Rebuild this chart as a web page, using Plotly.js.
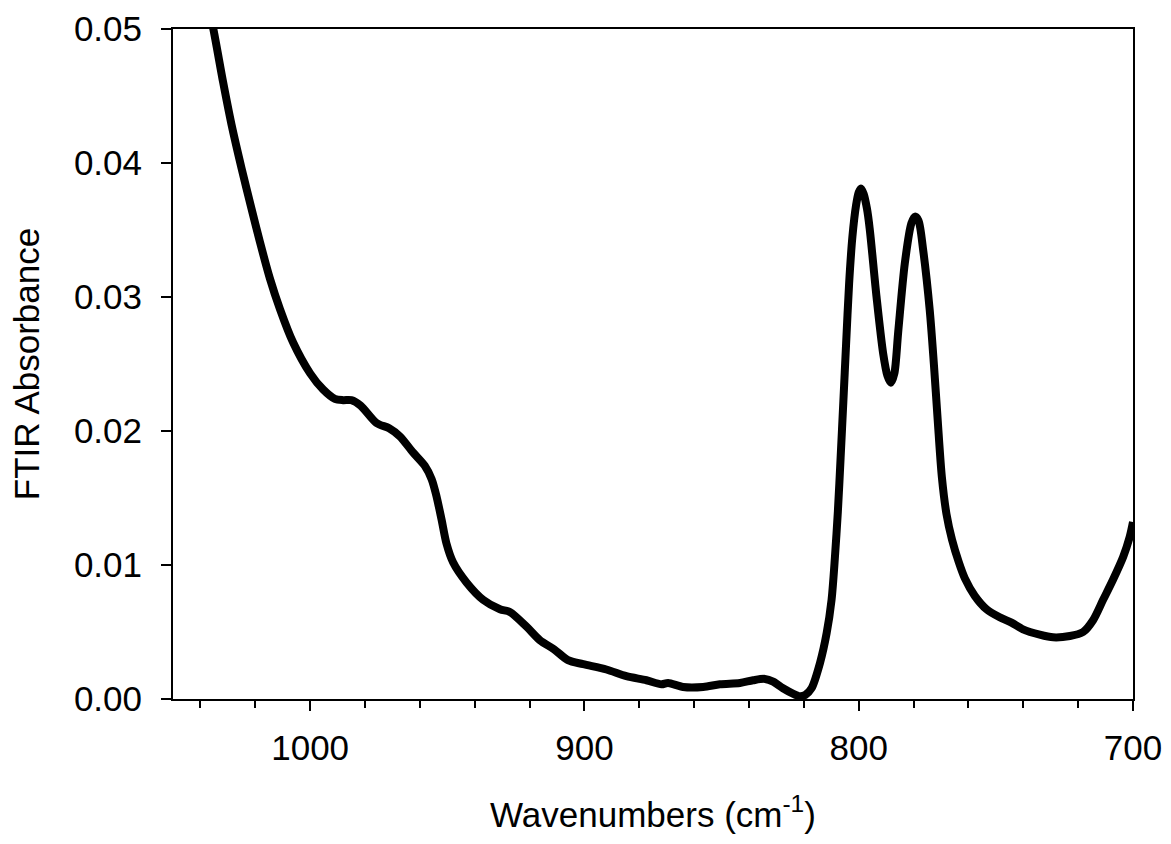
<!DOCTYPE html>
<html>
<head>
<meta charset="utf-8">
<script src="https://cdn.plot.ly/plotly-3.0.1.min.js"></script>
<style>html,body{margin:0;padding:0;background:#fff;}#chart{width:1171px;height:844px;}</style>
</head>
<body>
<div id="chart"></div>
<script>
// Wavenumbers (cm-1)
const wavenumbers = [
  1036.5, 1035.4, 1031.7, 1028.7, 1025.0, 1021.4, 1018.3, 1014.7, 1011.0, 1006.2,
  1000.0, 995.3, 991.0, 988.0, 985.0, 981.6, 975.8, 971.2, 967.3, 962.5,
  958.2, 955.7, 953.9, 952.1, 950.3, 947.9, 943.0, 936.9, 930.8, 927.2,
  921.1, 916.3, 911.0, 906.0, 900.5, 892.0, 884.7, 877.4, 871.9, 869.5,
  864.0, 856.7, 850.6, 843.3, 838.5, 834.2, 831.2, 827.6, 824.0, 821.5,
  819.5, 817.2, 814.1, 811.7, 809.9, 808.7, 807.6, 806.6, 805.6, 804.6,
  803.5, 802.3, 801.0, 800.0, 799.2, 798.2, 797.0, 796.0, 793.5, 791.1,
  789.5, 788.3, 787.0, 785.6, 783.2, 780.8, 779.5, 778.2, 776.5, 774.1,
  772.6, 771.2, 769.7, 768.0, 766.0, 763.5, 761.3, 757.7, 753.4, 748.6,
  744.3, 740.1, 734.0, 729.1, 723.0, 718.2, 714.5, 710.9, 707.3, 703.6,
  701.2, 700.0
];
// FTIR absorbance values
const absorbance = [
  0.0510, 0.0501, 0.0460, 0.0429, 0.0396, 0.0366, 0.0341, 0.0314, 0.0291, 0.0266,
  0.0243, 0.0231, 0.0224, 0.0223, 0.0223, 0.0219, 0.0206, 0.0202, 0.0196, 0.0184,
  0.0174, 0.0164, 0.0151, 0.0134, 0.0116, 0.0102, 0.0087, 0.0074, 0.0067, 0.0065,
  0.0054, 0.0044, 0.0037, 0.0029, 0.0026, 0.0022, 0.0017, 0.0014, 0.0011, 0.0012,
  0.0009, 0.0009, 0.0011, 0.0012, 0.0014, 0.0015, 0.0013, 0.0008, 0.0004, 0.0002,
  0.0003, 0.0008, 0.0027, 0.0049, 0.0074, 0.0105, 0.0140, 0.0180, 0.0222, 0.0265,
  0.0310, 0.0345, 0.0368, 0.0378, 0.0381, 0.0377, 0.0366, 0.0351, 0.0300, 0.0258,
  0.0241, 0.0236, 0.0243, 0.0274, 0.0325, 0.0355, 0.0360, 0.0357, 0.0335, 0.0290,
  0.0250, 0.0208, 0.0166, 0.0138, 0.0119, 0.0102, 0.0090, 0.0077, 0.0067, 0.0061,
  0.0057, 0.0052, 0.0048, 0.0046, 0.0047, 0.0050, 0.0059, 0.0074, 0.0089, 0.0106,
  0.0121, 0.0132
];
const xTickVals = [1000, 900, 800, 700];
const xTickText = ['1000', '900', '800', '700'];
const yTickVals = [0, 0.01, 0.02, 0.03, 0.04, 0.05];
const yTickText = ['0.00', '0.01', '0.02', '0.03', '0.04', '0.05'];

const FONT = 'Liberation Sans, Arial, sans-serif';

const trace = {
  x: wavenumbers,
  y: absorbance,
  type: 'scatter',
  mode: 'lines',
  line: {color: '#000000', width: 8, shape: 'spline', smoothing: 0.8},
  hoverinfo: 'skip'
};

const layout = {
  width: 1171,
  height: 844,
  margin: {l: 173, r: 38, t: 29, b: 145, pad: 0},
  paper_bgcolor: '#ffffff',
  plot_bgcolor: '#ffffff',
  showlegend: false,
  font: {family: FONT, color: '#000000', size: 35},
  xaxis: {
    range: [1050, 700],
    tickvals: xTickVals,
    ticktext: xTickText,
    ticks: 'outside',
    ticklen: 10,
    tickwidth: 2,
    tickcolor: '#000',
    showline: true,
    linewidth: 2,
    linecolor: '#000',
    mirror: true,
    showgrid: false,
    zeroline: false,
    tickfont: {family: FONT, size: 35, color: '#000'},
    ticklabelstandoff: 7,
    minor: {dtick: 20, tick0: 0, ticks: 'outside', ticklen: 7, tickwidth: 2, tickcolor: '#000', showgrid: false},
    title: {text: 'Wavenumbers (cm<sup>-1</sup>)', font: {family: FONT, size: 35, color: '#000'}, standoff: 36}
  },
  yaxis: {
    range: [0, 0.05],
    tickvals: yTickVals,
    ticktext: yTickText,
    ticks: 'outside',
    ticklen: 10,
    tickwidth: 2,
    tickcolor: '#000',
    showline: true,
    linewidth: 2,
    linecolor: '#000',
    mirror: true,
    showgrid: false,
    zeroline: false,
    tickfont: {family: FONT, size: 35, color: '#000'},
    ticklabelstandoff: 12,
    title: {text: 'FTIR Absorbance', font: {family: FONT, size: 35, color: '#000'}, standoff: 24}
  }
};

Plotly.newPlot('chart', [trace], layout, {displayModeBar: false, staticPlot: true});
</script>
</body>
</html>
